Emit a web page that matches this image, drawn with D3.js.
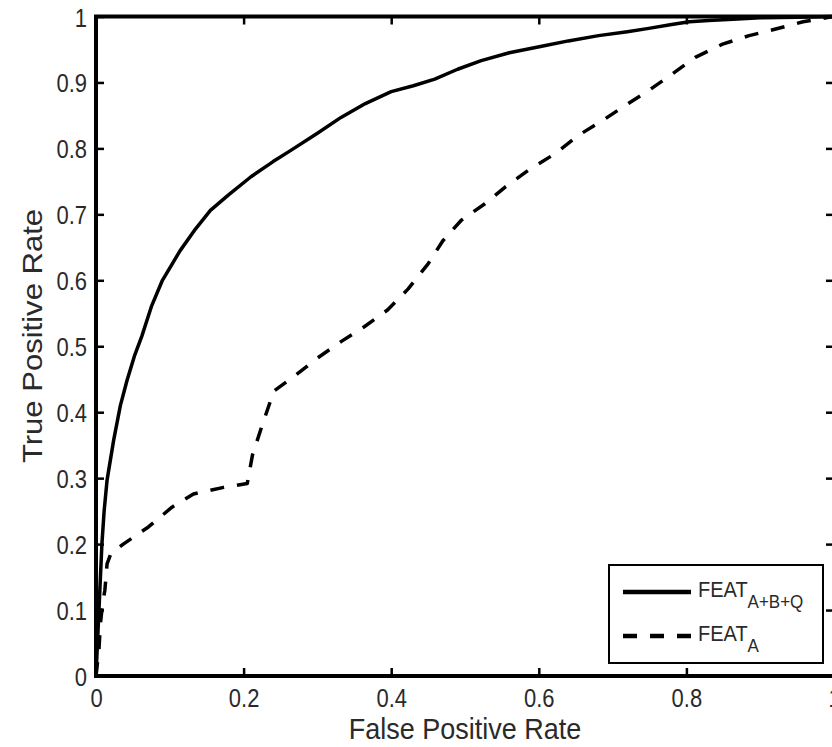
<!DOCTYPE html>
<html>
<head>
<meta charset="utf-8">
<script src="https://cdn.jsdelivr.net/npm/d3@7"></script>
<style>
  body { margin: 0; background: #fff; }
  svg { display: block; font-family: "Liberation Sans", Arial, sans-serif; }
</style>
</head>
<body>
<svg id="chart" width="832" height="747"></svg>
<script>
// ROC curves, values
const fprTicks = [0, 0.2, 0.4, 0.6, 0.8, 1];
const tprTicks = [0, 0.1, 0.2, 0.3, 0.4, 0.5, 0.6, 0.7, 0.8, 0.9, 1];

const featABQ = [
  [0, 0], [0.002, 0.05], [0.004, 0.1], [0.006, 0.15], [0.008, 0.2], [0.011, 0.25],
  [0.015, 0.297], [0.024, 0.358], [0.033, 0.41], [0.042, 0.448], [0.052, 0.485],
  [0.062, 0.515], [0.075, 0.56], [0.09, 0.6], [0.114, 0.645], [0.135, 0.678],
  [0.155, 0.706], [0.18, 0.73], [0.21, 0.757], [0.24, 0.78], [0.264, 0.797],
  [0.3, 0.823], [0.332, 0.847], [0.365, 0.868], [0.4, 0.886], [0.43, 0.895],
  [0.459, 0.905], [0.49, 0.92], [0.522, 0.933], [0.56, 0.945], [0.604, 0.955],
  [0.64, 0.963], [0.681, 0.971], [0.72, 0.977], [0.749, 0.982], [0.78, 0.988],
  [0.804, 0.992], [0.83, 0.994], [0.863, 0.996], [0.9, 0.998], [0.95, 0.999], [1, 1]
];

const featA = [
  [0, 0], [0.004, 0.04], [0.006, 0.08], [0.009, 0.11], [0.012, 0.13], [0.015, 0.17],
  [0.02, 0.185], [0.037, 0.2], [0.071, 0.226], [0.103, 0.256], [0.132, 0.276],
  [0.173, 0.286], [0.205, 0.292], [0.212, 0.335], [0.226, 0.383], [0.241, 0.432],
  [0.268, 0.454], [0.3, 0.482], [0.332, 0.507], [0.364, 0.53], [0.395, 0.555],
  [0.423, 0.587], [0.45, 0.625], [0.47, 0.66], [0.495, 0.691], [0.527, 0.716],
  [0.554, 0.741], [0.586, 0.767], [0.622, 0.792], [0.654, 0.82], [0.686, 0.842],
  [0.717, 0.865], [0.749, 0.888], [0.781, 0.913], [0.812, 0.938], [0.849, 0.958],
  [0.885, 0.971], [0.921, 0.981], [0.958, 0.992], [1, 1]
];

const seriesNames = ["FEAT", "FEAT"];
const seriesSubs = ["A+B+Q", "A"];
const seriesData = [featABQ, featA];
const seriesDash = [null, "14,13"];

const svg = d3.select("#chart");
const x = d3.scaleLinear().domain([0, 1]).range([96, 834]);
const y = d3.scaleLinear().domain([0, 1]).range([676, 16.5]);
const fmt = d3.format("");

// curves
const line = d3.line().x(d => x(d[0])).y(d => y(d[1]));
seriesData.forEach((data, i) => {
  svg.append("path")
    .attr("d", line(data))
    .attr("fill", "none")
    .attr("stroke", "#000")
    .attr("stroke-width", 3.5)
    .attr("stroke-linejoin", "round")
    .attr("stroke-dasharray", seriesDash[i]);
});

// axes, ticks inward on all four sides
const styleAxis = g => {
  g.select(".domain").remove();
  g.selectAll(".tick line").attr("stroke", "#000").attr("stroke-width", 2.5);
  g.selectAll("text").attr("fill", "#2a2a2a").attr("font-size", 22);
};

svg.append("g")
  .attr("transform", `translate(0,${y(0)})`)
  .call(d3.axisBottom(x).tickValues(fprTicks).tickSize(-8).tickFormat(fmt))
  .call(styleAxis)
  .call(g => g.selectAll("text")
    .attr("y", null).attr("dy", null)
    .attr("transform", "translate(0,31) scale(1,1.15)"));

svg.append("g")
  .attr("transform", `translate(0,${y(1)})`)
  .call(d3.axisTop(x).tickValues(fprTicks).tickSize(-8).tickFormat(""))
  .call(styleAxis);

svg.append("g")
  .attr("transform", `translate(${x(0)},0)`)
  .call(d3.axisLeft(y).tickValues(tprTicks).tickSize(-8).tickFormat(fmt))
  .call(styleAxis)
  .call(g => g.selectAll("text")
    .attr("x", null).attr("dy", null)
    .attr("transform", "translate(-9,9.5) scale(1,1.15)"));

svg.append("g")
  .attr("transform", `translate(${x(1)},0)`)
  .call(d3.axisRight(y).tickValues(tprTicks).tickSize(-8).tickFormat(""))
  .call(styleAxis);

svg.append("rect")
  .attr("x", x(0)).attr("y", y(1))
  .attr("width", x(1) - x(0)).attr("height", y(0) - y(1))
  .attr("fill", "none").attr("stroke", "#000").attr("stroke-width", 4);

// axis titles
svg.append("text")
  .attr("transform", `translate(${(x(0) + x(1)) / 2 - 0},739) scale(1,1.1)`)
  .attr("text-anchor", "middle")
  .attr("font-size", 27)
  .attr("fill", "#2a2a2a")
  .text("False Positive Rate");

svg.append("text")
  .attr("transform", `translate(42,336) rotate(-90) scale(1.15,1)`)
  .attr("text-anchor", "middle")
  .attr("font-size", 27)
  .attr("fill", "#2a2a2a")
  .text("True Positive Rate");

// legend
const legend = svg.append("g");
legend.append("rect")
  .attr("x", 609).attr("y", 565).attr("width", 214).attr("height", 98)
  .attr("fill", "#fff").attr("stroke", "#000").attr("stroke-width", 2);

seriesNames.forEach((name, i) => {
  const ly = 592 + i * 44;
  legend.append("line")
    .attr("x1", 623).attr("x2", 691).attr("y1", ly).attr("y2", ly)
    .attr("stroke", "#000").attr("stroke-width", 4.5)
    .attr("stroke-dasharray", seriesDash[i]);
  const t = legend.append("text")
    .attr("transform", `translate(698,${ly + 5}) scale(1,1.1)`)
    .attr("fill", "#2a2a2a")
    .attr("font-size", 20);
  t.append("tspan").text(name);
  t.append("tspan").attr("dy", 10).attr("font-size", 17).text(seriesSubs[i]);
});
</script>
</body>
</html>
